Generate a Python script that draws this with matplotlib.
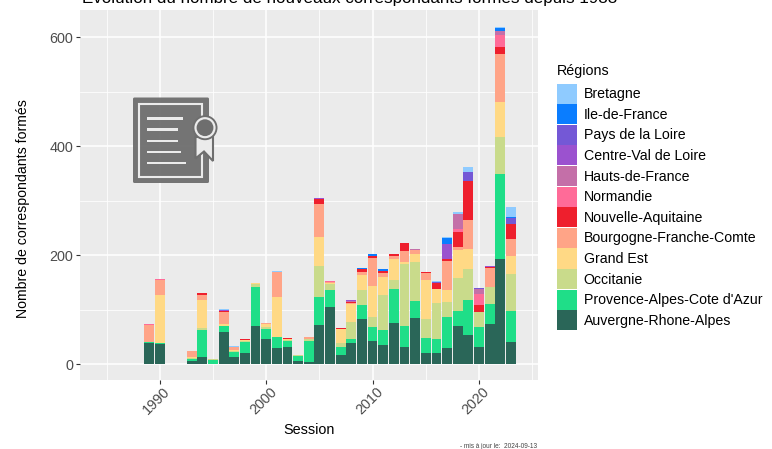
import matplotlib
matplotlib.use("Agg")
import matplotlib.pyplot as plt
from matplotlib.patches import Rectangle, Circle, Polygon, FancyBboxPatch
from matplotlib.transforms import Affine2D, ScaledTranslation
import numpy as np

plt.rcParams['font.family'] = ['Liberation Sans', 'DejaVu Sans']

years = [1989,1990,1993,1994,1995,1996,1997,1998,1999,2000,2001,2002,2003,2004,2005,2006,
         2007,2008,2009,2010,2011,2012,2013,2014,2015,2016,2017,2018,2019,2020,2021,2022,2023]
ara  = [39,36,6,13,0,59,13,20,69,45,30,31,5,4,72,104,16.5,39,82,41.5,35,76,31,84,21,21,29,69,54,31,74,192,41]
paca = [1,3,3,49,7,11,9,20,73,20,20,11,10,39,51,32,14.7,7,26,26,27.5,62,38,31,26,24.5,57.5,28,63.5,36,36,157,56]
occ  = [0,0,2,4,2,0,2,3,4,3.5,0,2,1,2,56,10,8,31,28,19.5,64,16.5,115,72,35,67,27,60.5,57.5,28,32,67,68.5]
ge   = [0,87,2,52,0,4,1,1,2,4,73,1,0,1,54,2,25,34,27.5,57,33,39,3,15,71.5,26,22.5,52,36,0,0,65,32]
bfc  = [32,27.5,10,9,0,21,6,0,0,3,45,1,0,3,61,2.5,0.5,1,5,50,7,5,21,7,13.5,0,52.5,5,54,0,34,87,32]
na   = [0,0,0,3,0,2.5,0,2.5,0,0,0,2,0,0,8.5,0,1,2,5.5,5,5,3,13.5,0,1,10.5,3.5,28,71,14,2.5,14,27.5]
norm = [1,2,0,0,0,0,0,0,0,0,0,0,0,0,0,1,0,0,0,0,0,0,0,0,0,0,0,5,0,19,0,22,0]
hdf  = [0,0,0,0,0,0,0,0,0,0,0,0,0,0,1,0,0,2,0,0,0,0,0,2.5,1,0,0,28,0,9,0,7,0]
cvl  = [0,0,0,0,0,1,0,0,0,0,0,0,0,0,1,0,0,1,0,0,0,0,0,0,0,0,29,0,0,0,2,0,0]
pdl  = [0,0,0,0,0,1,0,0,0,0,0,0,0,0,0,0,0,0,0,0,0,0,0,0,0,1,0,0,17,2,0,0,11]
idf  = [0,0,0,0,0,0,0,0,0,0,0,0,0,0,0,0,0,0,3,2.5,3,0,0,0,0,1,10.5,0,0,0,0,5,1]
bret = [0,0,0,0,0,1,2,0,0,0,2.5,0,0,0,0,0,0,0,0,0,0,0,0,0,0,2,1,3,9,0,0,2,19]

regions = ["Auvergne-Rhone-Alpes","Provence-Alpes-Cote d'Azur","Occitanie","Grand Est",
           "Bourgogne-Franche-Comte","Nouvelle-Aquitaine","Normandie","Hauts-de-France",
           "Centre-Val de Loire","Pays de la Loire","Ile-de-France","Bretagne"]
series = [ara,paca,occ,ge,bfc,na,norm,hdf,cvl,pdl,idf,bret]
colors = ["#2A6658","#1FDE88","#C9DB8B","#FFD985","#FFA487","#EE1F2D","#FF6B98",
          "#C46FA8","#9B52CF","#7458D6","#0A7DFF","#8FCBFF"]

W,H = 772,449
fig = plt.figure(figsize=(W/100,H/100),dpi=100)
L,R,T,B = 80,537.5,10,380
ax = fig.add_axes([L/W,1-B/H,(R-L)/W,(B-T)/H])
ax.set_facecolor("#EBEBEB")
ax.set_xlim(1982.5,2025.5)
ax.set_ylim((364-B)*1.835,(364-T)*1.835)
ax.set_axisbelow(True)
ax.grid(which='major',color='white',lw=1.1)
ax.set_xticks(np.arange(1985,2026,10),minor=True)
ax.set_yticks(np.arange(100,700,200),minor=True)
ax.grid(which='minor',color='white',lw=0.55)
ax.tick_params(which='minor',length=0)
ax.set_xticks([1990,2000,2010,2020])
ax.set_yticks([0,200,400,600])
ax.tick_params(which='major',length=3,width=0.8,color='#333333',labelcolor='#4D4D4D',labelsize=10.4,pad=2)
ax.tick_params(axis='x',which='major',pad=7)
shift = ScaledTranslation(-3/100,9/100,fig.dpi_scale_trans)
for lab in ax.get_xticklabels():
    lab.set_rotation(45)
    lab.set_ha('center')
    lab.set_transform(lab.get_transform()+shift)
for s in ax.spines.values():
    s.set_visible(False)

bottom = np.zeros(len(years))
handles=[]
for name,vals,c in zip(regions,series,colors):
    v = np.array(vals,dtype=float)
    b = ax.bar(years,v,width=0.92,bottom=bottom,color=c,edgecolor='none',label=name)
    handles.append(b)
    bottom += v

ax.set_xlabel("Session",fontsize=10.4,color='black')
ax.xaxis.set_label_coords((309-L)/(R-L),-(423-B)/(B-T))
ax.set_ylabel("Nombre de correspondants formés",fontsize=10.2,color='black')
ax.yaxis.set_label_coords((30-L)/(R-L),1-(208.5-T)/(B-T))

fig.text(82/W,1-3/H,"Evolution du nombre de nouveaux correspondants formés depuis 1988",
         fontsize=12.25,color='black',ha='left',va='baseline')
fig.text(537.5/W,1-448/H,"- mis à jour le:  2024-09-13",fontsize=4.7,color='#444444',ha='right',va='baseline')

leg = fig.legend(handles[::-1],regions[::-1],title="Régions",loc='upper left',
                 bbox_to_anchor=(557/W,1-64/H),frameon=False,fontsize=10.2,title_fontsize=10.3,
                 handlelength=1.41,handleheight=1.8,labelspacing=0.04,handletextpad=0.48,
                 borderpad=0,borderaxespad=0,alignment='left')
leg._legend_box.sep = 4

# certificate icon, drawn in pixel coordinates
px = Affine2D().scale(1,-1).translate(0,H)
g = "#6E6E6E"
bg = '#EBEBEB'
def add(p):
    p.set_transform(px); p.set_clip_on(False); fig.add_artist(p)
add(FancyBboxPatch((133,97.5),76,85.5,boxstyle="round,pad=0,rounding_size=1.5",fc=g,ec='none',alpha=0.95))
add(Rectangle((139,104),63,73,fc='none',ec=bg,lw=1.5))
for x1,y in [(183.3,118.3),(177.7,129.3),(177.7,140.7),(180.7,151.7),(186,162.7)]:
    add(Rectangle((147,y-1.2),x1-147,2.4,fc=bg,ec='none'))
add(Polygon([(195.5,137),(213,137),(213,161),(204,151.5),(195.5,158.5)],closed=True,fc=bg,ec=g,lw=1.5))
add(Circle((205,127.7),12.5,fc=g,ec='none'))
add(Circle((205,127.7),10.6,fc=bg,ec='none'))
add(Circle((205,127.7),8.4,fc=g,ec='none'))

fig.savefig("out.png",dpi=100)
